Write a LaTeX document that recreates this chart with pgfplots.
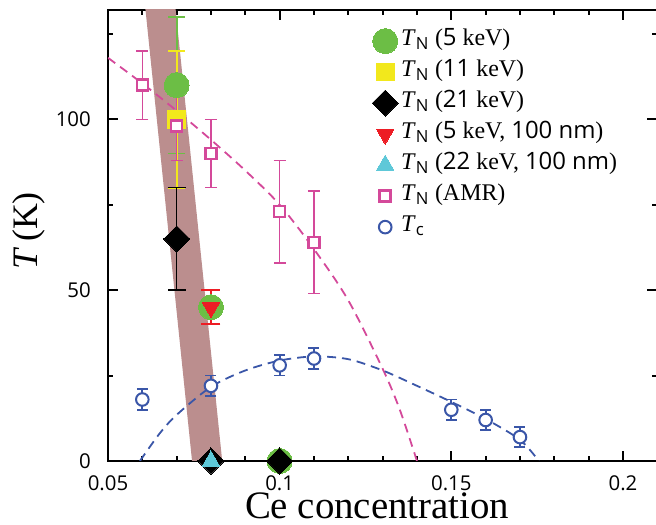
\documentclass[border=0pt]{standalone}
\usepackage{fontspec}
\setmainfont{Liberation Serif}
\newfontfamily\osans{Open Sans}
\usepackage{pgfplots}
\usepackage{pgfplotstable}
\pgfplotsset{compat=1.18}
\definecolor{band}{RGB}{187,142,142}
\definecolor{cgreen}{RGB}{108,190,69}
\definecolor{cyellow}{RGB}{242,232,28}
\definecolor{cred}{RGB}{237,28,36}
\definecolor{ccyan}{RGB}{94,200,216}
\definecolor{cpink}{RGB}{212,73,154}
\definecolor{cblue}{RGB}{58,86,168}
\newcommand{\TN}{\textit{T}\textsubscript{\osans N}}
\newcommand{\nm}[1]{{\osans #1}}
\pgfplotstableread{
x y e
0.07 110 20
0.08 45 0
0.10 0 0
}\green
\pgfplotstableread{
x y e
0.07 100 20
}\yellow
\pgfplotstableread{
x y e
0.07 65 15
0.08 0 0
0.10 0 0
}\black
\pgfplotstableread{
x y e
0.08 45 5
}\red
\pgfplotstableread{
x y e
0.08 0 0
}\cyan
\pgfplotstableread{
x y e
0.06 110 10
0.07 98 10
0.08 90 10
0.10 73 15
0.11 64 15
}\amr
\pgfplotstableread{
x y e
0.06 18 3
0.08 22 3
0.10 28 3
0.11 30 3
0.15 15 3
0.16 12 3
0.17 7 3
}\tc
\begin{document}
\begin{tikzpicture}
\begin{axis}[
  scale only axis, width=549.3bp, height=451bp,
  xmin=0.05, xmax=0.21, ymin=0, ymax=132,
  xtick={0.05,0.1,0.15,0.2}, xticklabels={0.05,0.1,0.15,0.2},
  minor xtick={0.06,0.07,0.08,0.09,0.11,0.12,0.13,0.14,0.16,0.17,0.18,0.19},
  ytick={0,50,100}, yticklabels={0,50,100},
  minor ytick={25,75,125},
  tick align=inside,
  major tick length=10bp, minor tick length=5bp,
  every tick/.style={line width=2bp, black},
  axis line style={line width=2.5bp},
  /pgf/number format/assume math mode=true,
  ticklabel style={font=\osans\fontsize{20.5}{20.5}\selectfont, inner sep=0pt},
  xticklabel style={yshift=-14bp},
  yticklabel style={xshift=-17bp},
  xlabel={Ce concentration},
  ylabel={\textit{T}\,(K)},
  every axis x label/.style={at={(axis description cs:0.49,-0.1286)}, anchor=base, inner sep=0pt, font=\fontsize{39}{39}\selectfont},
  every axis y label/.style={at={(axis description cs:-0.1438,0.51)}, rotate=90, anchor=center, inner sep=0pt, font=\fontsize{36}{36}\selectfont},
  legend style={at={(axis cs:0.1269,126.9)}, anchor=north west, draw=none, fill=none,
    font=\fontsize{24}{24}\selectfont, row sep=4bp, column sep=2bp, inner sep=0pt,
    nodes={inner sep=1bp, text height=17bp, text depth=8bp}},
  legend cell align=left,
]
\addplot[forget plot, draw=band, line width=30bp] coordinates {(0.0645,140) (0.0799,-10)};
\addplot[forget plot, smooth, draw=cpink, line width=1.8bp, dash pattern=on 9bp off 6bp] coordinates {
(0.05,118) (0.06,110.5) (0.07,102.5) (0.08,94) (0.09,85) (0.10,75) (0.11,62) (0.12,47) (0.13,27) (0.135,15) (0.14,0)};
\addplot[forget plot, smooth, draw=cblue, line width=1.8bp, dash pattern=on 9bp off 6bp] coordinates {
(0.0593,0) (0.065,8) (0.07,13.5) (0.08,21.7) (0.09,26.5) (0.10,29.4) (0.11,30.6) (0.12,29.8) (0.13,26.5) (0.14,22) (0.15,17.3) (0.16,12.3) (0.17,6.2) (0.1755,0)};
% green
\addplot[only marks, mark=*, mark size=12.5bp, draw=none, fill=cgreen, mark options={draw=cgreen, fill=cgreen, line width=0pt},
  error bars/.cd, y dir=both, y explicit,
  error bar style={line width=1.8bp, draw=cgreen},
  error mark options={rotate=90, line width=1.8bp, mark size=8.5bp, draw=cgreen}]
  table[x=x, y=y, y error=e] {\green};
\addlegendentry{\TN{} (\nm{5} keV)}
% yellow
\addplot[only marks, mark=square*, mark size=8.8bp, mark options={draw=cyellow, fill=cyellow, line width=0pt},
  error bars/.cd, y dir=both, y explicit,
  error bar style={line width=1.8bp, draw=cyellow},
  error mark options={rotate=90, line width=1.8bp, mark size=8.5bp, draw=cyellow}]
  table[x=x, y=y, y error=e] {\yellow};
\addlegendentry{\TN{} (\nm{11} keV)}
% black
\addplot[only marks, mark=square*, mark size=9.2bp, mark options={rotate=45, draw=black, fill=black, line width=0pt},
  error bars/.cd, y dir=both, y explicit,
  error bar style={line width=1.5bp, draw=black},
  error mark options={rotate=90, line width=1.5bp, mark size=9bp, draw=black}]
  table[x=x, y=y, y error=e] {\black};
\addlegendentry{\TN{} (\nm{21} keV)}
% red
\addplot[only marks, mark=triangle*, mark size=10bp, mark options={rotate=180, draw=cred, fill=cred, line width=0pt},
  error bars/.cd, y dir=both, y explicit,
  error bar style={line width=1.8bp, draw=cred},
  error mark options={rotate=90, line width=1.8bp, mark size=9.5bp, draw=cred}]
  table[x=x, y=y, y error=e] {\red};
\addlegendentry{\TN{} (\nm{5} keV, \nm{100 nm})}
% cyan
\addplot[only marks, mark=triangle*, mark size=10bp, mark options={draw=ccyan, fill=ccyan, line width=0pt}]
  table[x=x, y=y] {\cyan};
\addlegendentry{\TN{} (\nm{22} keV, \nm{100 nm})}
% AMR
\addplot[only marks, mark=square*, mark size=5.5bp, mark options={draw=cpink, fill=white, line width=2.5bp},
  error bars/.cd, y dir=both, y explicit,
  error bar style={line width=1.5bp, draw=cpink},
  error mark options={rotate=90, line width=1.5bp, mark size=6bp, draw=cpink}]
  table[x=x, y=y, y error=e] {\amr};
\addlegendentry{\TN{} (AMR)}
% Tc
\addplot[only marks, mark=*, mark size=6.3bp, mark options={draw=cblue, fill=white, line width=2bp},
  error bars/.cd, y dir=both, y explicit,
  error bar style={line width=1.8bp, draw=cblue},
  error mark options={rotate=90, line width=1.8bp, mark size=5.5bp, draw=cblue}]
  table[x=x, y=y, y error=e] {\tc};
\addlegendentry{\textit{T}\textsubscript{\osans c}}
\end{axis}
\pgfresetboundingbox
\useasboundingbox (-108bp,-64bp) rectangle (548bp,461bp);
\end{tikzpicture}
\end{document}
